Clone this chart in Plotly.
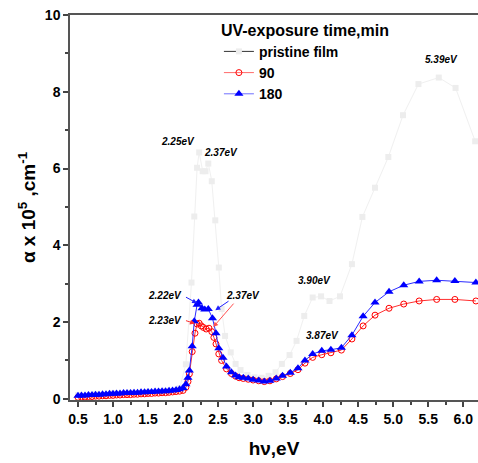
import plotly.graph_objects as go

# Photon energy (eV) and absorption coefficient (x10^5 cm^-1)
e_pristine = [0.50, 0.75, 1.00, 1.25, 1.50, 1.75, 1.95, 2.04, 2.12, 2.16, 2.20, 2.23,
              2.28, 2.32, 2.36, 2.41, 2.46, 2.51, 2.55, 2.60, 2.68, 2.75, 2.82, 2.92,
              3.02, 3.12, 3.22, 3.32, 3.41, 3.52, 3.62, 3.73, 3.85, 3.97, 4.09, 4.24,
              4.41, 4.56, 4.74, 4.93, 5.14, 5.36, 5.65, 5.89, 6.17]
a_pristine = [0.10, 0.12, 0.14, 0.16, 0.18, 0.21, 0.28, 0.90, 3.03, 4.75, 6.02, 6.42,
              5.93, 5.93, 6.13, 5.67, 4.65, 3.42, 2.34, 1.64, 1.21, 0.91, 0.75, 0.62,
              0.56, 0.55, 0.60, 0.69, 0.91, 1.14, 1.51, 2.16, 2.64, 2.67, 2.55, 2.67,
              3.51, 4.74, 5.50, 6.30, 7.39, 8.20, 8.37, 8.10, 6.71]

e_180 = [0.50, 0.55, 0.60, 0.65, 0.70, 0.75, 0.80, 0.85, 0.90, 0.95, 1.00, 1.05,
         1.10, 1.15, 1.20, 1.25, 1.30, 1.35, 1.40, 1.45, 1.50, 1.55, 1.60, 1.65,
         1.70, 1.75, 1.80, 1.85, 1.90, 1.95, 2.00, 2.04, 2.07, 2.09, 2.13, 2.16,
         2.20, 2.22, 2.27, 2.31, 2.36, 2.42, 2.47, 2.51, 2.57, 2.62, 2.69, 2.75,
         2.80, 2.86, 2.93, 3.00, 3.08, 3.16, 3.24, 3.33, 3.42, 3.53, 3.64, 3.74,
         3.85, 3.98, 4.11, 4.26, 4.41, 4.57, 4.74, 4.94, 5.15, 5.37, 5.62, 5.88, 6.18]
a_180 = [0.08, 0.09, 0.09, 0.10, 0.10, 0.11, 0.11, 0.12, 0.12, 0.13, 0.13, 0.14,
         0.14, 0.15, 0.15, 0.15, 0.16, 0.16, 0.17, 0.17, 0.18, 0.18, 0.19, 0.19,
         0.20, 0.20, 0.21, 0.22, 0.23, 0.25, 0.28, 0.38, 0.55, 0.74, 1.37, 2.02,
         2.45, 2.51, 2.36, 2.33, 2.34, 2.10, 1.71, 1.32, 1.07, 0.84, 0.69, 0.61,
         0.56, 0.55, 0.53, 0.50, 0.48, 0.45, 0.47, 0.53, 0.60, 0.68, 0.80, 1.00,
         1.17, 1.25, 1.28, 1.33, 1.66, 2.15, 2.51, 2.79, 2.96, 3.06, 3.09, 3.07, 3.03]

e_90 = [0.50, 0.55, 0.60, 0.65, 0.70, 0.75, 0.80, 0.85, 0.90, 0.95, 1.00, 1.05,
        1.10, 1.15, 1.20, 1.25, 1.30, 1.35, 1.40, 1.45, 1.50, 1.55, 1.60, 1.65,
        1.70, 1.75, 1.80, 1.85, 1.90, 1.95, 2.00, 2.04, 2.07, 2.09, 2.13, 2.17,
        2.20, 2.23, 2.26, 2.29, 2.33, 2.37, 2.41, 2.44, 2.47, 2.51, 2.55, 2.62,
        2.69, 2.75, 2.80, 2.86, 2.93, 3.00, 3.08, 3.16, 3.24, 3.33, 3.42, 3.53,
        3.64, 3.74, 3.85, 3.98, 4.11, 4.26, 4.41, 4.57, 4.74, 4.94, 5.15, 5.37,
        5.62, 5.88, 6.18]
a_90 = [0.04, 0.05, 0.05, 0.06, 0.06, 0.07, 0.07, 0.08, 0.08, 0.09, 0.09, 0.10,
        0.10, 0.11, 0.11, 0.11, 0.12, 0.12, 0.13, 0.13, 0.14, 0.14, 0.15, 0.15,
        0.16, 0.16, 0.17, 0.18, 0.19, 0.20, 0.22, 0.30, 0.45, 0.65, 1.23, 1.71,
        1.95, 1.97, 1.90, 1.86, 1.82, 1.84, 1.75, 1.60, 1.43, 1.17, 1.00, 0.78,
        0.66, 0.59, 0.55, 0.53, 0.51, 0.49, 0.47, 0.45, 0.47, 0.52, 0.58, 0.66,
        0.76, 0.93, 1.08, 1.15, 1.20, 1.27, 1.56, 1.90, 2.18, 2.36, 2.47, 2.55,
        2.59, 2.59, 2.55]

series_names = ["pristine film", "90", "180"]

# Peak labels: (text, energy, alpha)
peak_labels = [
    ("2.25eV", 1.93, 6.70),
    ("2.37eV", 2.54, 6.42),
    ("5.39eV", 5.69, 8.83),
    ("3.90eV", 3.87, 3.09),
    ("3.87eV", 3.99, 1.66),
    ("2.22eV", 1.74, 2.70),
    ("2.23eV", 1.74, 2.05),
    ("2.37eV", 2.86, 2.70),
]
# Pointer arrows: (tail_e, tail_a, tip_e, tip_a, colour)
pointers = [
    (2.02, 2.67, 2.20, 2.49, "#1f1fff"),
    (2.02, 2.05, 2.17, 1.96, "#ff3030"),
    (2.67, 2.57, 2.46, 2.31, "#1f1fff"),
    (2.74, 2.52, 2.43, 1.87, "#ff5050"),
]

FONT = "Liberation Sans, Arial"

fig = go.Figure()

fig.add_trace(go.Scatter(
    x=e_pristine, y=a_pristine, mode="lines+markers", showlegend=False,
    line=dict(color="#f0f0f0", width=1),
    marker=dict(symbol="square", size=6, color="#ededed"),
))
fig.add_trace(go.Scatter(
    x=e_90, y=a_90, mode="lines+markers", showlegend=False,
    line=dict(color="#ff3030", width=1),
    marker=dict(symbol="circle-open", size=6, color="#ff0000", line=dict(width=1)),
))
fig.add_trace(go.Scatter(
    x=e_180, y=a_180, mode="lines+markers", showlegend=False,
    line=dict(color="#2a2aff", width=1),
    marker=dict(symbol="triangle-up", size=8, color="#0000ff"),
))

# Legend entries
legend_styles = [
    dict(line=dict(color="#333333", width=1),
         marker=dict(symbol="square", size=6, color="#ededed")),
    dict(line=dict(color="#ff6a6a", width=1),
         marker=dict(symbol="circle-open", size=6, color="#ff0000", line=dict(width=1))),
    dict(line=dict(color="#7070ff", width=1),
         marker=dict(symbol="triangle-up", size=8, color="#0000ff")),
]
for name, st in zip(series_names, legend_styles):
    fig.add_trace(go.Scatter(x=[None], y=[None], mode="lines+markers",
                             name=name, **st))

for text, ex, ay in peak_labels:
    fig.add_annotation(x=ex, y=ay, text=text, showarrow=False,
                       font=dict(family=FONT, size=10, color="black", weight="bold",
                                 style="italic"))

for tx, ty, hx, hy, col in pointers:
    fig.add_annotation(x=hx, y=hy, ax=tx, ay=ty, xref="x", yref="y",
                       axref="x", ayref="y", text="", showarrow=True,
                       arrowhead=2, arrowsize=1, arrowwidth=1, arrowcolor=col)

fig.update_layout(
    width=478, height=463,
    margin=dict(l=70, r=0, t=15, b=63),
    plot_bgcolor="white", paper_bgcolor="white",
    font=dict(family=FONT, color="black"),
    legend=dict(
        title=dict(text="UV-exposure time,min",
                   font=dict(family=FONT, size=16, weight="bold")),
        font=dict(family=FONT, size=14, weight="bold"),
        x=0.365, y=1.0, xanchor="left", yanchor="top",
        bgcolor="rgba(0,0,0,0)", itemwidth=30, tracegroupgap=0,
    ),
    xaxis=dict(
        range=[0.386, 6.21], tickmode="linear", tick0=0.5, dtick=0.5,
        tickformat=".1f", ticks="outside", ticklen=5, tickwidth=1.5,
        tickcolor="#444", showline=True, linecolor="#555", linewidth=1.5,
        mirror=True, showgrid=False, zeroline=False,
        tickfont=dict(family=FONT, size=14, weight="bold"),
        minor=dict(ticks="outside", ticklen=3, dtick=0.25, tick0=0.5,
                   tickcolor="#444", showgrid=False),
        title=dict(text="h\u03bd,eV", standoff=16,
                   font=dict(family=FONT, size=19, weight="bold")),
    ),
    yaxis=dict(
        range=[-0.03, 10], tickmode="linear", tick0=0, dtick=2,
        ticks="outside", ticklen=5, tickwidth=1.5, tickcolor="#444",
        showline=True, linecolor="#555", linewidth=1.5, mirror=False,
        showgrid=False, zeroline=False,
        tickfont=dict(family=FONT, size=14, weight="bold"),
        minor=dict(ticks="outside", ticklen=3, dtick=1, tick0=0,
                   tickcolor="#444", showgrid=False),
        title=dict(text="\u03b1 x 10<sup>5</sup> ,cm<sup>-1</sup>", standoff=4,
                   font=dict(family=FONT, size=19, weight="bold")),
    ),
)

fig.write_html("out.html")
